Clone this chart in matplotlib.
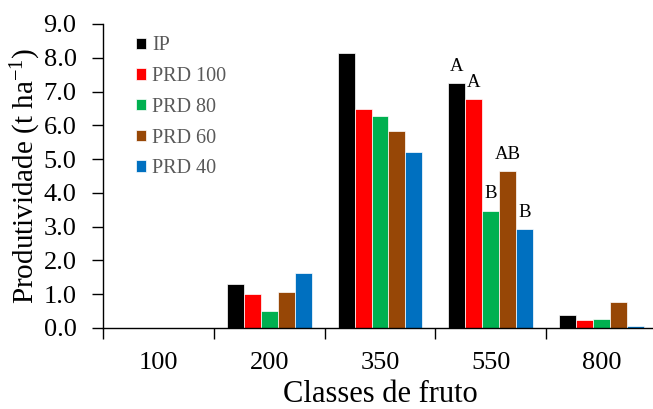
import numpy as np
import matplotlib
matplotlib.use("Agg")
import matplotlib.pyplot as plt

# ---- data ----
classes = ["100", "200", "350", "550", "800"]
series = ["IP", "PRD 100", "PRD 80", "PRD 60", "PRD 40"]
ip = [0.0, 1.31, 8.13, 7.25, 0.39]
prd100 = [0.0, 1.01, 6.48, 6.78, 0.25]
prd80 = [0.0, 0.49, 6.27, 3.47, 0.27]
prd60 = [0.0, 1.07, 5.83, 4.64, 0.78]
prd40 = [0.0, 1.63, 5.22, 2.93, 0.06]
letters_550 = ["A", "A", "B", "AB", "B"]  # significance letters, class 550
colors = ["#000000", "#FF0000", "#00B050", "#974706", "#0070C0"]

plt.rcParams["font.family"] = "Liberation Serif"
plt.rcParams["mathtext.fontset"] = "custom"
plt.rcParams["mathtext.rm"] = "Liberation Serif"
plt.rcParams["mathtext.default"] = "regular"

fig = plt.figure(figsize=(6.53, 4.09), dpi=100)
ax = fig.add_axes([103 / 653, 81 / 409, 554 / 653, 304 / 409])

x = np.arange(len(classes))
w = 0.153
all_vals = [ip, prd100, prd80, prd60, prd40]
for i, (name, vals, c) in enumerate(zip(series, all_vals, colors)):
    ax.bar(x + (i - 2) * w, vals, width=w, color=c, edgecolor="white",
           linewidth=0.5, label=name, zorder=2)

# letters above class 550 bars
for i, lab in enumerate(letters_550):
    ax.annotate(lab, (x[3] + (i - 2) * w, all_vals[i][3]), xytext=(0, 6),
                textcoords="offset points", ha="center", va="bottom",
                fontsize=13.5)

ax.set_xlim(-0.5, len(classes) - 0.5)
ax.set_ylim(0, 9)
ax.set_yticks(np.arange(0, 9.01, 1.0))
ax.set_yticklabels([f"{v:.1f}" for v in np.arange(0, 9.01, 1.0)], fontsize=19)
ax.tick_params(axis="y", direction="out", length=8, width=1, pad=11)

# major ticks on class boundaries, labels at class centres
ax.set_xticks(np.arange(-0.5, len(classes), 1.0))
ax.set_xticklabels([])
ax.set_xticks(x, minor=True)
ax.set_xticklabels(classes, minor=True, fontsize=19)
ax.tick_params(axis="x", which="major", direction="out", length=8, width=1)
ax.tick_params(axis="x", which="minor", length=0, pad=17)

for s in ["top", "right"]:
    ax.spines[s].set_visible(False)
ax.spines["left"].set_linewidth(1)
ax.spines["bottom"].set_linewidth(1)

ax.set_ylabel("Produtividade (t ha$^{-1}$)", fontsize=21, labelpad=0.4)
ax.set_xlabel("Classes de fruto", fontsize=22, labelpad=4.7)

ax.legend(loc="upper left", bbox_to_anchor=(136 / 653, (409 - 36.5) / 409),
          bbox_transform=fig.transFigure, frameon=False, fontsize=14.5,
          labelcolor="#595959", handlelength=0.5, handleheight=0.5,
          handletextpad=0.3, labelspacing=0.58, borderaxespad=0, borderpad=0)

fig.savefig("out.png", dpi=100)
